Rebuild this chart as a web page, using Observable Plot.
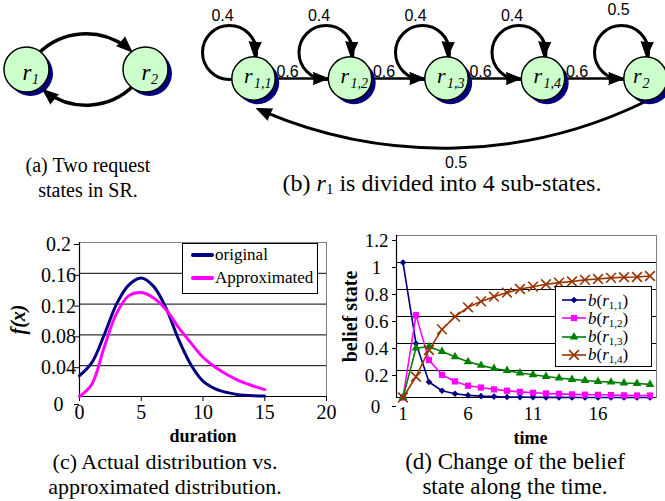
<!DOCTYPE html>
<html><head><meta charset="utf-8">
<script src="https://cdn.jsdelivr.net/npm/d3@7"></script>
<script src="https://cdn.jsdelivr.net/npm/@observablehq/plot@0.6"></script>
<style>
html,body{margin:0;padding:0;background:#fff;}
#root{position:relative;width:665px;height:501px;overflow:hidden;background:#fff;font-family:"Liberation Serif","Times New Roman",Times,serif;color:#000;}
.pane{position:absolute;}
.cap{position:absolute;font-family:"Liberation Serif","Times New Roman",Times,serif;font-size:22px;line-height:25px;text-align:center;white-space:nowrap;color:#000;}
.cap sub{font-size:15px;vertical-align:-3px;line-height:0;}
.legend{position:absolute;background:#fff;border:1px solid #000;box-sizing:border-box;}
.lgtext{position:absolute;white-space:nowrap;font-family:"Liberation Serif","Times New Roman",Times,serif;color:#000;}
.lgtext sub{font-size:11px;vertical-align:-3px;line-height:0;}
</style></head>
<body><div id="root"></div>
<script>
// ---------------- DATA ----------------
// (a) two request states
const stateNamesA = ["r1", "r2"];
const transitionsA = [["r1", "r2"], ["r2", "r1"]];
// (b) r1 split into 4 sub-states
const stateNamesB = ["r1,1", "r1,2", "r1,3", "r1,4", "r2"];
const selfProbB = [0.4, 0.4, 0.4, 0.4, 0.5];
const forwardProbB = [0.6, 0.6, 0.6, 0.6];
const returnProbB = 0.5;

// (c) distribution
const durationX = [0, 1, 2, 3, 4, 5, 6, 7, 8, 9, 10, 11, 12, 13, 14, 15];
const originalY = [0.027, 0.044, 0.08, 0.12, 0.145, 0.154, 0.143, 0.115, 0.075, 0.042, 0.02, 0.01, 0.005, 0.002, 0.001, 0.0005];
const approxY   = [0, 0.016, 0.064, 0.108, 0.131, 0.135, 0.128, 0.113, 0.09, 0.07, 0.051, 0.038, 0.028, 0.02, 0.014, 0.009];
const seriesC = ["original", "Approximated"];
const colorsC = ["#000080", "#ff00ff"];
const xTicksC = [0, 5, 10, 15, 20];
const yTicksC = [0, 0.04, 0.08, 0.12, 0.16, 0.2];

// (d) belief state
const timeSteps = [1, 2, 3, 4, 5, 6, 7, 8, 9, 10, 11, 12, 13, 14, 15, 16, 17, 18, 19, 20];
const belief11 = [1, 0.4, 0.115, 0.05, 0.028, 0.016, 0.01, 0.007, 0.004, 0.003, 0.002, 0.001, 0.001, 0, 0, 0, 0, 0, 0, 0];
const belief12 = [0, 0.61, 0.277, 0.168, 0.119, 0.087, 0.074, 0.06, 0.05, 0.042, 0.035, 0.03, 0.027, 0.023, 0.021, 0.02, 0.018, 0.016, 0.015, 0.015];
const belief13 = [0, 0.367, 0.376, 0.341, 0.302, 0.265, 0.238, 0.215, 0.2, 0.181, 0.168, 0.156, 0.144, 0.134, 0.126, 0.119, 0.114, 0.107, 0.104, 0.097];
const belief14 = [0, 0.154, 0.352, 0.505, 0.599, 0.668, 0.712, 0.747, 0.777, 0.804, 0.821, 0.839, 0.851, 0.859, 0.871, 0.878, 0.886, 0.891, 0.893, 0.9];
const seriesD = ["1,1", "1,2", "1,3", "1,4"];
const colorsD = ["#000080", "#ff00ff", "#008000", "#993300"];
const symbolsD = ["diamond2", "square", "triangle", "times"];
const xTicksD = [1, 6, 11, 16];
const yTicksD = [0, 0.2, 0.4, 0.6, 0.8, 1, 1.2];

// ---------------- helpers ----------------
const root = document.getElementById("root");
function place(node, left, top) {
  const d = document.createElement("div");
  d.className = "pane";
  d.style.left = left + "px";
  d.style.top = top + "px";
  d.appendChild(node);
  root.appendChild(d);
  return d;
}
// point and heading at chord distance `inset` before the end of a Plot.arrow arc
function arcTip(x1, y1, x2, y2, bendDeg, inset) {
  const b = bendDeg * Math.PI / 180, s = Math.sign(b);
  const dx = x2 - x1, dy = y2 - y1, L = Math.hypot(dx, dy);
  const R = L / (2 * Math.sin(Math.abs(b)));
  const h = R * Math.cos(b);
  const ux = -dy / L, uy = dx / L;
  const cx = (x1 + x2) / 2 + s * h * ux, cy = (y1 + y2) / 2 + s * h * uy;
  const phiB = Math.atan2(y2 - cy, x2 - cx);
  const phi = phiB - s * 2 * Math.asin(Math.min(1, inset / (2 * R)));
  const vx = -s * Math.sin(phi), vy = s * Math.cos(phi);
  return {x: cx + R * Math.cos(phi), y: cy + R * Math.sin(phi), rotate: Math.atan2(vx, -vy) * 180 / Math.PI};
}
const spike = (data, extra = {}) => Plot.vector(data, {
  x: "x", y: "y", rotate: "rotate", length: 15, r: 6, shape: "spike", anchor: "end",
  fill: "black", stroke: "black", strokeWidth: 1, ...extra
});
const serif = "'Liberation Serif', 'Times New Roman', Times, serif";
const sans = "'Liberation Sans', Arial, Helvetica, sans-serif";

// ---------------- (a) diagram ----------------
{
  const RA = 22.5, stepA = 119, x0 = 26, y0 = 69, bend = 62;
  const nodes = stateNamesA.map((n, i) => ({name: n, base: n[0], sub: n.slice(1), px: x0 + i * stepA, py: y0}));
  const byName = Object.fromEntries(nodes.map(d => [d.name, d]));
  const edges = transitionsA.map(([f, t], k) => ({x1: byName[f].px, y1: byName[f].py, x2: byName[t].px, y2: byName[t].py, tip: k === 0 ? 22.5 : 26}));
  const heads = edges.map(e => arcTip(e.x1, e.y1, e.x2, e.y2, bend, e.tip));
  const p = Plot.plot({
    width: 190, height: 130, margin: 0,
    x: {type: "identity", axis: null}, y: {type: "identity", axis: null},
    style: {background: "transparent", overflow: "visible"},
    marks: [
      Plot.arrow(edges, {x1: "x1", y1: "y1", x2: "x2", y2: "y2", bend, headLength: 0, insetStart: 20, insetEnd: 30, stroke: "black", strokeWidth: 3.5}),
      Plot.dot(nodes, {x: "px", y: "py", dx: 4, dy: 4, r: RA, fill: "#000080"}),
      Plot.dot(nodes, {x: "px", y: "py", r: RA, fill: "#ccffcc", stroke: "black", strokeWidth: 1.5}),
      spike(heads),
      Plot.text(nodes, {x: d => d.px + 5, y: "py", dy: 3, text: "base", textAnchor: "end", fontFamily: serif, fontStyle: "italic", fontSize: 23}),
      Plot.text(nodes, {x: d => d.px + 5.5, y: "py", dy: 10, text: "sub", textAnchor: "start", fontFamily: serif, fontStyle: "italic", fontSize: 14})
    ]
  });
  place(p, 0, 0);
}

// ---------------- (b) diagram ----------------
{
  const RB = 21.7, stepB = 96.5, x0 = 63, y0 = 78, bendBack = 25;
  const nodes = stateNamesB.map((n, i) => ({name: n, base: n[0], sub: n.slice(1), px: x0 + i * stepB + (n.length > 2 ? 0 : 6), py: y0, loop: selfProbB[i]}));
  const fwd = forwardProbB.map((p, i) => ({p, x1: nodes[i].px, y1: y0, x2: nodes[i + 1].px, y2: y0}));
  const first = nodes[0], last = nodes[nodes.length - 1];
  const back = [{p: returnProbB, x1: last.px, y1: last.py + 23, x2: first.px + 3, y2: first.py + 30}];
  const heads = [
    ...nodes.map(d => ({x: d.px + 1, y: d.py - RB, rotate: 183})),
    ...fwd.map(e => ({x: e.x2 - RB, y: e.y2, rotate: 90})),
    ...back.map(e => arcTip(e.x1, e.y1, e.x2, e.y2, bendBack, 0))
  ];
  const p = Plot.plot({
    width: 475, height: 180, margin: 0,
    x: {type: "identity", axis: null}, y: {type: "identity", axis: null},
    style: {background: "transparent", overflow: "visible"},
    marks: [
      Plot.dot(nodes, {x: "px", y: "py", dx: -24, dy: -26, r: 27, fill: "none", stroke: "black", strokeWidth: 3}),
      Plot.link(fwd, {x1: "x1", y1: "y1", x2: "x2", y2: "y2", stroke: "black", strokeWidth: 2.5}),
      Plot.arrow(back, {x1: "x1", y1: "y1", x2: "x2", y2: "y2", bend: bendBack, headLength: 0, insetEnd: 8, stroke: "black", strokeWidth: 3}),
      Plot.dot(nodes, {x: "px", y: "py", dx: 4, dy: 4, r: RB, fill: "#000080"}),
      Plot.dot(nodes, {x: "px", y: "py", r: RB, fill: "#ccffcc", stroke: "black", strokeWidth: 1.5}),
      spike(heads),
      Plot.text(nodes, {x: d => d.px + (d.sub.length > 1 ? -1 : -4), y: "py", dy: -3, text: "base", textAnchor: "end", fontFamily: serif, fontStyle: "italic", fontSize: 22}),
      Plot.text(nodes, {x: d => d.px + (d.sub.length > 1 ? 0.5 : -3), y: "py", dy: 5, text: "sub", textAnchor: "start", fontFamily: serif, fontStyle: "italic", fontSize: 14}),
      Plot.text(nodes, {x: d => d.px + (d.sub.length > 1 ? -31 : -27), y: d => d.py + (d.sub.length > 1 ? -63 : -69), text: d => String(d.loop), fontFamily: sans, fontSize: 16}),
      Plot.text(fwd, {x: d => d.x1 + 34, y: d => d.y1 - 7, text: d => String(d.p), fontFamily: sans, fontSize: 16}),
      Plot.text(back, {x: d => (d.x1 + d.x2) / 2 + 5, y: first.py + 84, text: d => String(d.p), fontFamily: sans, fontSize: 16})
    ]
  });
  place(p, 190, 0);
}

// ---------------- (c) chart ----------------
{
  const rowsO = durationX.map((x, i) => ({x, y: originalY[i]}));
  const rowsA = durationX.map((x, i) => ({x, y: approxY[i]}));
  const p = Plot.plot({
    width: 335, height: 230, marginLeft: 79, marginRight: 9, marginTop: 22, marginBottom: 54,
    x: {domain: [0, 20]}, y: {domain: [0, 0.2]},
    style: {background: "transparent", overflow: "visible", fontFamily: serif, fontSize: "20px", color: "black"},
    marks: [
      Plot.gridY(yTicksC.slice(1, -1), {stroke: "black", strokeOpacity: 1, strokeWidth: 1}),
      Plot.frame({stroke: "#808080", strokeWidth: 1}),
      Plot.ruleX([0], {stroke: "black", strokeWidth: 1.2}),
      Plot.ruleY([0], {stroke: "black", strokeWidth: 1.2}),
      Plot.axisY({ticks: yTicksC.slice(1), tickFormat: d => String(d), tickSize: 5, tickPadding: 16, textAnchor: "middle", dy: 2, label: null}),
      Plot.axisY({ticks: [0], tickFormat: d => String(d), tickSize: 5, tickPadding: 16, textAnchor: "middle", dy: 8, label: null}),
      Plot.axisX({ticks: xTicksC, tickFormat: d => String(d), tickSize: 5, tickPadding: 3, label: null}),
      Plot.line(rowsO, {x: "x", y: "y", stroke: colorsC[0], strokeWidth: 3, curve: "catmull-rom"}),
      Plot.line(rowsA, {x: "x", y: "y", stroke: colorsC[1], strokeWidth: 3, curve: "catmull-rom"}),
      Plot.text(["f(x)"], {frameAnchor: "left", dx: -61, rotate: -90, textAnchor: "middle", lineAnchor: "middle", fontWeight: "bold", fontStyle: "italic", fontSize: 20}),
      Plot.text(["duration"], {frameAnchor: "bottom", dy: 40, textAnchor: "middle", lineAnchor: "middle", fontWeight: "bold", fontSize: 18})
    ]
  });
  place(p, 0, 220);
  // legend
  const lg = document.createElement("div");
  lg.className = "legend";
  Object.assign(lg.style, {left: "182px", top: "243px", width: "136px", height: "51px"});
  seriesC.forEach((name, i) => {
    const cy = 11 + i * 23;
    const sw = document.createElement("div");
    Object.assign(sw.style, {position: "absolute", left: "8px", top: (cy - 2) + "px", width: "23px", height: "4px", background: colorsC[i], borderRadius: "2px"});
    lg.appendChild(sw);
    const t = document.createElement("div");
    t.className = "lgtext";
    Object.assign(t.style, {left: "32px", top: (cy - 10) + "px", fontSize: "17px", lineHeight: "20px"});
    t.textContent = name;
    lg.appendChild(t);
  });
  root.appendChild(lg);
}

// ---------------- (d) chart ----------------
{
  const beliefs = [belief11, belief12, belief13, belief14];
  const rows = seriesD.flatMap((s, k) => timeSteps.map((t, i) => ({t, v: beliefs[k][i], s})));
  const marks = [
    Plot.gridY(yTicksD.slice(1, -1), {stroke: "black", strokeOpacity: 1, strokeWidth: 1}),
    Plot.frame({stroke: "#808080", strokeWidth: 1}),
    Plot.ruleX([0.5], {stroke: "black", strokeWidth: 1.2}),
    Plot.ruleY([0], {stroke: "black", strokeWidth: 1.2}),
    Plot.axisY({ticks: yTicksD.slice(1), tickFormat: d => String(d), tickSize: 4, tickPadding: 16, textAnchor: "middle", dy: 5, label: null}),
    Plot.axisY({ticks: [0], tickFormat: d => String(d), tickSize: 4, tickPadding: 17, textAnchor: "middle", dy: 9, label: null}),
    Plot.axisX({ticks: xTicksD, tickFormat: d => String(d), tickSize: 0, tickPadding: 9, label: null}),
    Plot.text(["belief state"], {frameAnchor: "left", dx: -46, rotate: -90, textAnchor: "middle", lineAnchor: "middle", fontWeight: "bold", fontSize: 20}),
    Plot.text(["time"], {frameAnchor: "bottom", dx: 4, dy: 41, textAnchor: "middle", lineAnchor: "middle", fontWeight: "bold", fontSize: 18})
  ];
  seriesD.forEach((s, k) => {
    const data = rows.filter(d => d.s === s);
    marks.push(Plot.line(data, {x: "t", y: "v", stroke: colorsD[k], strokeWidth: 1.6}));
  });
  seriesD.forEach((s, k) => {
    const data = rows.filter(d => d.s === s);
    const sym = symbolsD[k];
    const r = sym === "diamond2" ? 3 : sym === "square" ? 3.5 : sym === "triangle" ? 3.2 : 4.5;
    marks.push(sym === "times"
      ? Plot.dot(data, {x: "t", y: "v", symbol: sym, r, stroke: colorsD[k], strokeWidth: 1.6, fill: "none"})
      : Plot.dot(data, {x: "t", y: "v", symbol: sym, r, fill: colorsD[k], stroke: "none"}));
  });
  const p = Plot.plot({
    width: 335, height: 230, marginLeft: 66, marginRight: 9, marginTop: 15, marginBottom: 53,
    x: {domain: [0.5, 20.5]}, y: {domain: [0, 1.2]},
    style: {background: "transparent", overflow: "visible", fontFamily: serif, fontSize: "19px", color: "black"},
    marks
  });
  place(p, 330, 220);
  // legend
  const lg = document.createElement("div");
  lg.className = "legend";
  Object.assign(lg.style, {left: "555px", top: "286px", width: "97px", height: "81px"});
  const d3sym = {diamond2: d3.symbolDiamond2, square: d3.symbolSquare, triangle: d3.symbolTriangle, times: d3.symbolTimes || d3.symbolX};
  seriesD.forEach((s, k) => {
    const cy = 13 + k * 18.3;
    const sym = symbolsD[k];
    const r = sym === "diamond2" ? 3 : sym === "square" ? 3.5 : sym === "triangle" ? 3.2 : 4.5;
    const svg = d3.create("svg").attr("width", 26).attr("height", 14)
      .style("position", "absolute").style("left", "6px").style("top", (cy - 7) + "px");
    svg.append("line").attr("x1", 0).attr("x2", 24).attr("y1", 7).attr("y2", 7).attr("stroke", colorsD[k]).attr("stroke-width", 1.6);
    const path = svg.append("path").attr("transform", "translate(12,7)").attr("d", d3.symbol(d3sym[sym], Math.PI * r * r)());
    if (sym === "times") path.attr("fill", "none").attr("stroke", colorsD[k]).attr("stroke-width", 1.6);
    else path.attr("fill", colorsD[k]);
    lg.appendChild(svg.node());
    const t = document.createElement("div");
    t.className = "lgtext";
    Object.assign(t.style, {left: "32px", top: (cy - 8.5) + "px", fontSize: "17px", lineHeight: "17px"});
    t.innerHTML = `<i>b</i>(<i>r</i><sub>${s}</sub>)`;
    lg.appendChild(t);
  });
  root.appendChild(lg);
}

// ---------------- captions ----------------
function caption(html, left, top, width, size, lh) {
  const d = document.createElement("div");
  d.className = "cap";
  Object.assign(d.style, {left: left + "px", top: top + "px", width: width + "px", fontSize: size + "px", lineHeight: lh + "px"});
  d.innerHTML = html;
  root.appendChild(d);
}
caption("(a) Two request<br>states in SR.", 0, 153, 176, 20, 25);
caption("(b) <i>r</i><sub>1</sub> is divided into 4 sub-states.", 240, 173, 404, 24, 21);
caption("(c) Actual distribution vs.<br>approximated distribution.", 0, 449, 330, 22, 25);
caption("(d) Change of the belief<br>state along the time.", 365, 449, 300, 23, 25);
</script>
</body></html>
